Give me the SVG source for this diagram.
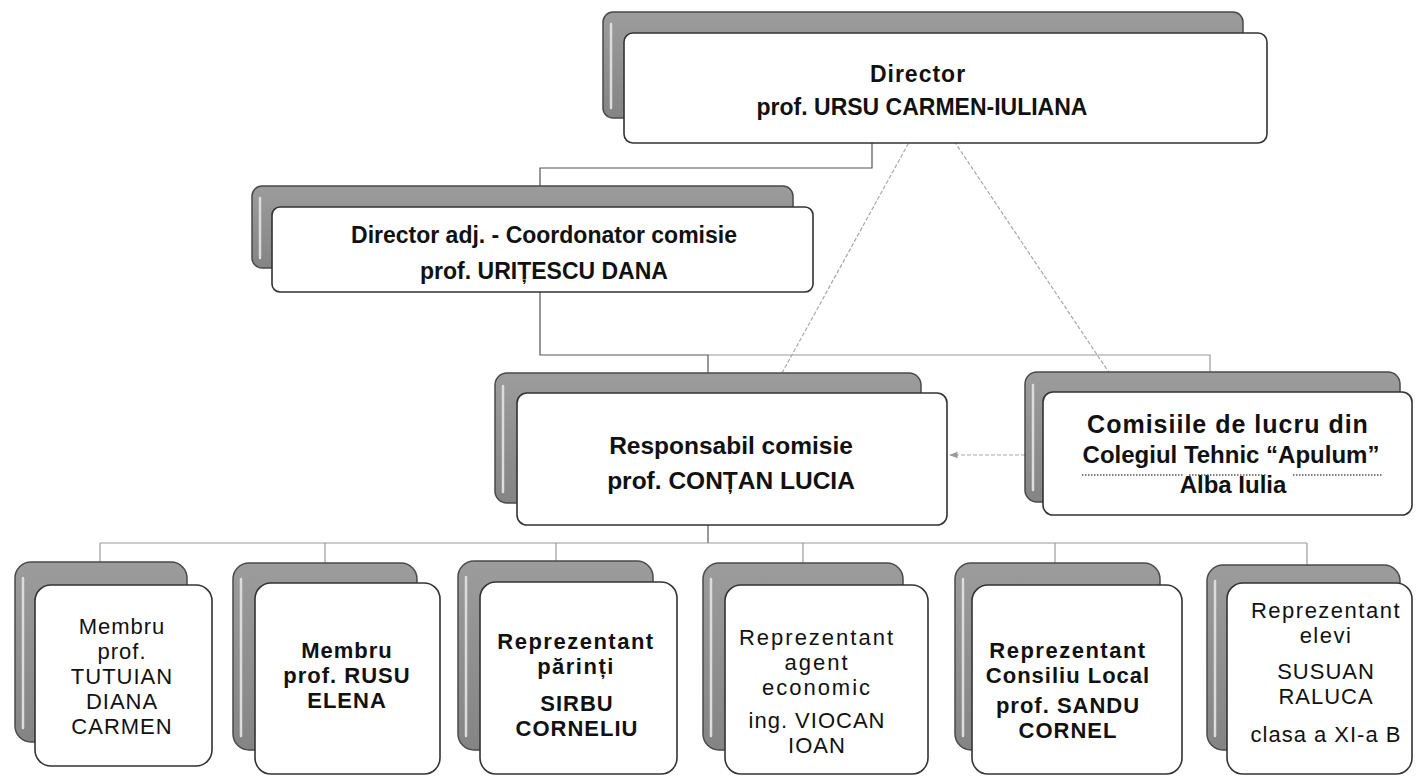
<svg xmlns="http://www.w3.org/2000/svg" width="1419" height="776" viewBox="0 0 1419 776">
<defs>
<style>
.back{fill:url(#gb);stroke:#4a4a4a;stroke-width:1.5}
.hl{stroke:#dcdcdc;stroke-width:2.5;stroke-linecap:round}
.front{fill:#fff;stroke:#333;stroke-width:1.6}
.t{font-family:"Liberation Sans",Arial,sans-serif;font-size:23px;fill:#111;text-anchor:middle}
.s{font-size:22px;letter-spacing:1px}
.b{font-weight:bold}
.c{fill:none;stroke:#555;stroke-width:1.2}
.cg{fill:none;stroke:#9a9a9a;stroke-width:1.2}
.cd{fill:none;stroke:#a8a8a8;stroke-width:1.2;stroke-dasharray:4 2}
.sq{stroke:#555;stroke-width:1.5;stroke-dasharray:1.5 1.5}
</style>
<linearGradient id="gb" x1="0" y1="0" x2="0" y2="1">
<stop offset="0" stop-color="#9c9c9c"/>
<stop offset="1" stop-color="#848484"/>
</linearGradient>
<marker id="ah" viewBox="0 0 10 10" refX="9" refY="5" markerWidth="7" markerHeight="7" orient="auto-start-reverse">
<path d="M0,1 L10,5 L0,9 z" fill="#999"/>
</marker>
</defs>
<rect width="1419" height="776" fill="#fff"/>

<g id="connectors">
<polyline class="c" points="872,143 872,168 540,168 540,187"/>
<polyline class="c" points="540,292 540,355 708,355 708,373"/>
<polyline class="cg" points="708,355 1210,355 1210,372"/>
<line class="cd" x1="782" y1="373" x2="918" y2="126" marker-end="url(#ah)"/>
<line class="cd" x1="1110" y1="374" x2="944" y2="126" marker-end="url(#ah)"/>
<line class="cd" x1="1025" y1="455" x2="950" y2="455" marker-end="url(#ah)"/>
<polyline class="c" points="708,525 708,543"/>
<line class="cg" x1="100" y1="543" x2="1307" y2="543"/>
<line class="cg" x1="100" y1="543" x2="100" y2="563"/>
<line class="cg" x1="325" y1="543" x2="325" y2="563"/>
<line class="cg" x1="556" y1="543" x2="556" y2="561"/>
<line class="cg" x1="803" y1="543" x2="803" y2="563"/>
<line class="cg" x1="1055" y1="543" x2="1055" y2="563"/>
<line class="cg" x1="1307" y1="543" x2="1307" y2="565"/>
</g>

<g id="director">
<rect class="back" x="603" y="12" width="640" height="106" rx="10"/>
<line class="hl" x1="611" y1="24" x2="611" y2="108"/>
<rect class="front" x="624" y="33" width="643" height="110" rx="9"/>
<text class="t b" x="918" y="82" style="letter-spacing:1px">Director</text>
<text class="t b" x="922" y="115">prof. URSU CARMEN-IULIANA</text>
</g>

<g id="director-adj">
<rect class="back" x="252" y="186" width="541" height="82" rx="10"/>
<line class="hl" x1="260" y1="198" x2="260" y2="258"/>
<rect class="front" x="272" y="207" width="541" height="85" rx="8"/>
<text class="t b" x="544" y="243">Director adj. - Coordonator comisie</text>
<text class="t b" x="544" y="279">prof. URIȚESCU DANA</text>
</g>

<g id="responsabil">
<rect class="back" x="495" y="373" width="426" height="130" rx="12"/>
<line class="hl" x1="503" y1="386" x2="503" y2="492"/>
<rect class="front" x="517" y="393" width="430" height="132" rx="10"/>
<text class="t b" x="731" y="454" style="font-size:24.5px">Responsabil comisie</text>
<text class="t b" x="731" y="489" style="font-size:24.5px">prof. CONȚAN LUCIA</text>
</g>

<g id="comisiile">
<rect class="back" x="1025" y="372" width="375" height="130" rx="12"/>
<line class="hl" x1="1033" y1="385" x2="1033" y2="490"/>
<rect class="front" x="1043" y="392" width="369" height="123" rx="10"/>
<text class="t b" x="1228" y="433" style="font-size:25px;letter-spacing:1px">Comisiile de lucru din</text>
<text class="t b" x="1231" y="463" style="font-size:24px">Colegiul Tehnic “Apulum”</text>
<text class="t b" x="1233" y="493" style="font-size:24px">Alba Iulia</text>
<line class="sq" x1="1082" y1="475" x2="1183" y2="475"/>
<line class="sq" x1="1189" y1="475" x2="1267" y2="475"/>
<line class="sq" x1="1293" y1="475" x2="1383" y2="475"/>
</g>

<g id="membru1">
<rect class="back" x="15" y="562" width="172" height="180" rx="16"/>
<line class="hl" x1="23" y1="578" x2="23" y2="728"/>
<rect class="front" x="35" y="585" width="177" height="181" rx="16"/>
<text class="t s" x="122" y="634">Membru</text>
<text class="t s" x="122" y="659">prof.</text>
<text class="t s" x="122" y="684">TUTUIAN</text>
<text class="t s" x="122" y="709">DIANA</text>
<text class="t s" x="122" y="734">CARMEN</text>
</g>

<g id="membru2">
<rect class="back" x="233" y="563" width="184" height="187" rx="16"/>
<line class="hl" x1="241" y1="579" x2="241" y2="736"/>
<rect class="front" x="255" y="583" width="185" height="191" rx="16"/>
<text class="t b s" x="347" y="658">Membru</text>
<text class="t b s" x="347" y="683">prof. RUSU</text>
<text class="t b s" x="347" y="708">ELENA</text>
</g>

<g id="parinti">
<rect class="back" x="458" y="561" width="195" height="189" rx="16"/>
<line class="hl" x1="466" y1="577" x2="466" y2="736"/>
<rect class="front" x="480" y="582" width="197" height="192" rx="16"/>
<text class="t b s" x="576" y="649" style="letter-spacing:1.5px">Reprezentant</text>
<text class="t b s" x="576" y="674" style="letter-spacing:1.5px">părinți</text>
<text class="t b s" x="577" y="711">SIRBU</text>
<text class="t b s" x="577" y="736">CORNELIU</text>
</g>

<g id="agent">
<rect class="back" x="703" y="563" width="200" height="187" rx="16"/>
<line class="hl" x1="711" y1="579" x2="711" y2="736"/>
<rect class="front" x="725" y="585" width="203" height="189" rx="16"/>
<text class="t s" x="817" y="645" style="letter-spacing:2px">Reprezentant</text>
<text class="t s" x="817" y="670" style="letter-spacing:2px">agent</text>
<text class="t s" x="817" y="695" style="letter-spacing:2px">economic</text>
<text class="t s" x="817" y="728">ing. VIOCAN</text>
<text class="t s" x="817" y="753">IOAN</text>
</g>

<g id="consiliu">
<rect class="back" x="955" y="563" width="205" height="187" rx="16"/>
<line class="hl" x1="963" y1="579" x2="963" y2="736"/>
<rect class="front" x="972" y="585" width="210" height="189" rx="16"/>
<text class="t b s" x="1068" y="658" style="letter-spacing:1.5px">Reprezentant</text>
<text class="t b s" x="1068" y="683">Consiliu Local</text>
<text class="t b s" x="1068" y="713">prof. SANDU</text>
<text class="t b s" x="1068" y="738">CORNEL</text>
</g>

<g id="elevi">
<rect class="back" x="1207" y="565" width="193" height="185" rx="16"/>
<line class="hl" x1="1215" y1="581" x2="1215" y2="736"/>
<rect class="front" x="1227" y="583" width="185" height="191" rx="16"/>
<text class="t s" x="1326" y="618" style="letter-spacing:1.5px">Reprezentant</text>
<text class="t s" x="1326" y="643" style="letter-spacing:1.5px">elevi</text>
<text class="t s" x="1326" y="679">SUSUAN</text>
<text class="t s" x="1326" y="704">RALUCA</text>
<text class="t s" x="1326" y="742">clasa a XI-a B</text>
</g>
</svg>
